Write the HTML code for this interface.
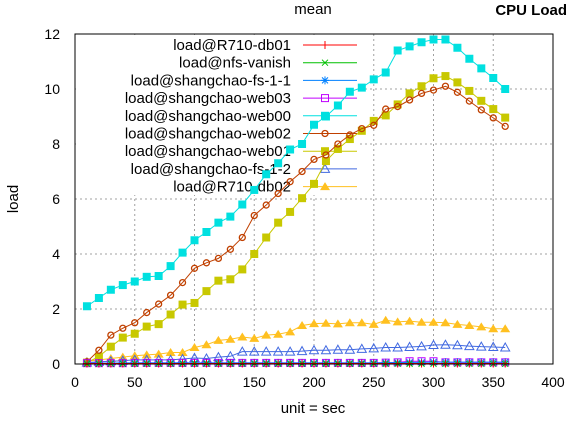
<!DOCTYPE html>
<html><head><meta charset="utf-8"><style>
body{margin:0;background:#fff}
svg text{font-family:"Liberation Sans","DejaVu Sans",sans-serif}
</style></head><body>
<svg id="chart" width="571" height="419" xmlns="http://www.w3.org/2000/svg">
<g id="grid"></g>
<rect x="76" y="35" width="282" height="160" fill="#fff"/>
<g id="legend"></g>
<g id="series"></g>
<rect x="75" y="34" width="478" height="330" fill="none" stroke="#000" stroke-width="1"/>
<g id="ticks"></g>
<text x="313" y="14" font-size="15" text-anchor="middle">mean</text>
<text x="567" y="15" font-size="15" font-weight="bold" text-anchor="end">CPU Load</text>
<text x="0" y="0" font-size="15" text-anchor="middle" transform="translate(18,199) rotate(-90)">load</text>
<text x="313" y="413" font-size="15" text-anchor="middle">unit = sec</text>
</svg>
<script>
const xTicks=[0,50,100,150,200,250,300,350,400];
const yTicks=[0,2,4,6,8,10,12];
const xs=[10,20,30,40,50,60,70,80,90,100,110,120,130,140,150,160,170,180,190,200,210,220,230,240,250,260,270,280,290,300,310,320,330,340,350,360];
const seriesNames=["load@R710-db01","load@nfs-vanish","load@shangchao-fs-1-1","load@shangchao-web03","load@shangchao-web00","load@shangchao-web02","load@shangchao-web01","load@shangchao-fs-1-2","load@R710-db02"];
const db01=[0.02,0.02,0.02,0.02,0.02,0.02,0.02,0.02,0.02,0.02,0.02,0.02,0.02,0.02,0.02,0.02,0.02,0.02,0.02,0.02,0.02,0.02,0.02,0.02,0.02,0.02,0.02,0.02,0.02,0.02,0.02,0.02,0.02,0.02,0.02,0.02];
const nfs=[0.01,0.01,0.01,0.01,0.01,0.01,0.01,0.01,0.01,0.01,0.01,0.01,0.01,0.01,0.01,0.01,0.01,0.01,0.01,0.01,0.01,0.01,0.01,0.01,0.01,0.01,0.01,0.01,0.01,0.01,0.01,0.01,0.01,0.01,0.01,0.01];
const fs11=[0.03,0.03,0.03,0.04,0.04,0.04,0.04,0.04,0.04,0.04,0.04,0.04,0.04,0.04,0.04,0.04,0.04,0.04,0.04,0.04,0.04,0.04,0.04,0.04,0.04,0.05,0.05,0.06,0.06,0.07,0.07,0.07,0.07,0.07,0.07,0.07];
const web03=[0.03,0.03,0.03,0.03,0.04,0.04,0.04,0.04,0.04,0.04,0.04,0.04,0.04,0.04,0.04,0.04,0.04,0.04,0.04,0.04,0.04,0.04,0.04,0.04,0.04,0.05,0.06,0.1,0.1,0.1,0.06,0.06,0.06,0.06,0.06,0.06];
const web00=[2.1,2.4,2.7,2.87,3.0,3.17,3.2,3.56,4.05,4.5,4.8,5.14,5.36,5.8,6.33,6.9,7.3,7.8,8.0,8.7,9.0,9.4,9.9,10.05,10.35,10.6,11.4,11.55,11.7,11.8,11.8,11.5,11.1,10.75,10.4,10.0];
const web02=[0.08,0.5,1.05,1.3,1.5,1.87,2.18,2.5,2.96,3.48,3.68,3.84,4.17,4.6,5.4,5.78,6.2,6.63,7.0,7.44,7.6,8.0,8.33,8.56,8.68,9.27,9.36,9.6,9.84,9.96,10.1,9.88,9.56,9.24,8.95,8.64];
const web01=[0.05,0.27,0.63,0.96,1.1,1.36,1.45,1.8,2.16,2.22,2.65,3.03,3.08,3.44,4.0,4.6,5.14,5.53,6.03,6.55,7.38,7.82,8.18,8.48,8.84,9.04,9.44,9.84,10.1,10.39,10.47,10.24,9.93,9.57,9.27,8.96];
const fs12=[0.05,0.08,0.1,0.12,0.15,0.15,0.15,0.15,0.18,0.22,0.2,0.25,0.28,0.45,0.45,0.45,0.45,0.45,0.47,0.5,0.5,0.52,0.52,0.55,0.57,0.6,0.6,0.62,0.64,0.69,0.7,0.68,0.65,0.63,0.62,0.6];
const db02=[0.1,0.15,0.2,0.25,0.3,0.33,0.36,0.42,0.42,0.6,0.7,0.86,0.9,0.98,0.93,1.05,1.08,1.17,1.4,1.47,1.48,1.46,1.5,1.5,1.44,1.59,1.53,1.56,1.52,1.52,1.5,1.44,1.4,1.35,1.28,1.28];

const NS="http://www.w3.org/2000/svg";
const X=v=>75+v*478/400, Y=v=>364-v*330/12;
function mk(t,a,p){const e=document.createElementNS(NS,t);for(const k in a)e.setAttribute(k,a[k]);p.appendChild(e);return e;}
const grid=document.getElementById('grid'),ticks=document.getElementById('ticks');
xTicks.forEach(t=>{
  if(t>0&&t<400){const l=mk('line',{x1:X(t),x2:X(t),y1:34,y2:364,stroke:'#a0a0a0','stroke-dasharray':'2,3'},grid);
  
  }
  const tx=mk('text',{x:X(t),y:387,'font-size':14,'text-anchor':'middle'},ticks);tx.textContent=t;
  
  
});
yTicks.forEach(t=>{
  if(t>0&&t<12){const l=mk('line',{x1:75,x2:553,y1:Y(t),y2:Y(t),stroke:'#a0a0a0','stroke-dasharray':'2,3'},grid);
  
  }
  const tx=mk('text',{x:60,y:Y(t)+5,'font-size':14,'text-anchor':'end'},ticks);tx.textContent=t;
  
  
});
function marker(type,x,y,c,p){
  const s=4;let e;
  if(type==='plus'){e=mk('path',{d:`M${x-s} ${y}H${x+s}M${x} ${y-s}V${y+s}`,stroke:c,fill:'none'},p);}
  else if(type==='x'){e=mk('path',{d:`M${x-3} ${y-3}L${x+3} ${y+3}M${x-3} ${y+3}L${x+3} ${y-3}`,stroke:c,fill:'none'},p);}
  else if(type==='star'){e=mk('path',{d:`M${x-s} ${y}H${x+s}M${x} ${y-s}V${y+s}M${x-3} ${y-3}L${x+3} ${y+3}M${x-3} ${y+3}L${x+3} ${y-3}`,stroke:c,fill:'none'},p);}
  else if(type==='osq'){e=mk('rect',{x:x-3.5,y:y-3.5,width:7,height:7,stroke:c,fill:'none'},p);}
  else if(type==='fsq'){e=mk('rect',{x:x-4,y:y-4,width:8,height:8,fill:c},p);}
  else if(type==='ocirc'){e=mk('circle',{cx:x,cy:y,r:3,stroke:c,fill:'none','stroke-width':1.3},p);}
  else if(type==='otri'){e=mk('path',{d:`M${x} ${y-4.5}L${x+4.5} ${y+3.5}L${x-4.5} ${y+3.5}Z`,stroke:c,fill:'none'},p);}
  else if(type==='ftri'){e=mk('path',{d:`M${x} ${y-4.5}L${x+5} ${y+3.5}L${x-5} ${y+3.5}Z`,fill:c},p);}
  return e;
}
const data=[db01,nfs,fs11,web03,web00,web02,web01,fs12,db02];
const colors=['#ff0000','#00c000','#0080ff','#c000ff','#00e0e0','#c04000','#c8c800','#4169e1','#ffc020'];
const marks=['plus','x','star','osq','fsq','ocirc','fsq','otri','ftri'];
const sg=document.getElementById('series'),lg=document.getElementById('legend');
const order=[8,7,6,5,4,3,2,1,0];
order.forEach(i=>{
  const g=mk('g',{},sg);
  
  
  mk('polyline',{points:xs.map((x,j)=>X(x)+','+Y(data[i][j])).join(' '),fill:'none',stroke:colors[i],'stroke-width':1},g);
  xs.forEach((x,j)=>{const m=marker(marks[i],X(x),Y(data[i][j]),colors[i],g);
    
    });
});
seriesNames.forEach((n,i)=>{
  const y=45+i*17.7;
  const g=mk('g',{},lg);
  
  
  const t=mk('text',{x:291,y:y+5,'font-size':15,'text-anchor':'end',fill:'#000'},g);t.textContent=n;
  mk('line',{x1:303,x2:357,y1:y,y2:y,stroke:colors[i]},g);
  marker(marks[i],325,y,colors[i],g);
});
</script>
</body></html>
